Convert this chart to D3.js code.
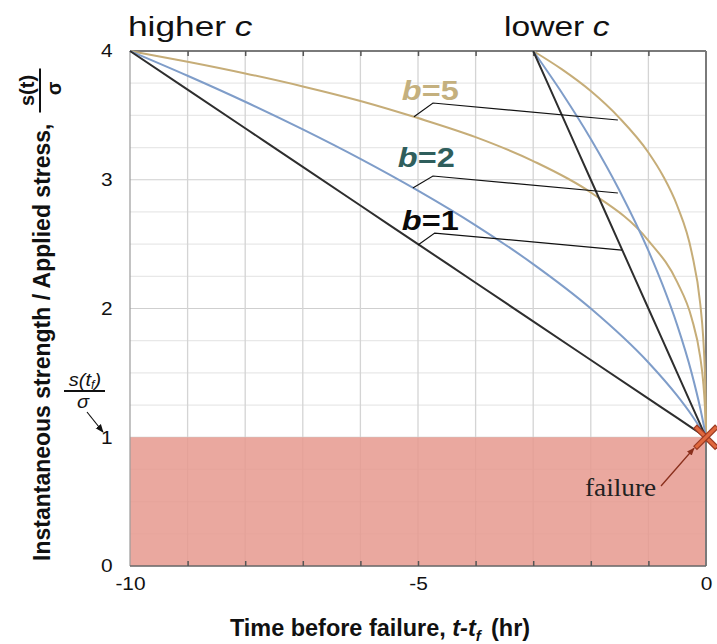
<!DOCTYPE html>
<html>
<head>
<meta charset="utf-8">
<script src="https://cdn.jsdelivr.net/npm/d3@7"></script>
<style>
  html, body { margin: 0; padding: 0; background: #fff; }
  svg { display: block; font-family: "Liberation Sans", Arial, sans-serif; }
</style>
</head>
<body>
<svg id="chart" width="717" height="644"></svg>
<script>
// Time before failure (hr) and normalised strength s(t)/sigma for each curve
const timeHigher = [-10, -9, -8, -7, -6, -5, -4, -3, -2, -1, -0.5, -0.25, -0.1, -0.05, -0.02, -0.01, -0.005, 0];
const higherB1   = [4, 3.7, 3.4, 3.1, 2.8, 2.5, 2.2, 1.9, 1.6, 1.3, 1.15, 1.075, 1.03, 1.015, 1.006, 1.003, 1.0015, 1];
const higherB2   = [4, 3.808, 3.606, 3.391, 3.162, 2.915, 2.646, 2.345, 2.0, 1.581, 1.323, 1.173, 1.072, 1.037, 1.015, 1.007, 1.004, 1];
const higherB5   = [4, 3.917, 3.826, 3.725, 3.612, 3.479, 3.331, 3.145, 2.901, 2.528, 2.205, 1.927, 1.622, 1.436, 1.25, 1.151, 1.086, 1];

const timeLower = [-3, -2.5, -2, -1.5, -1, -0.75, -0.5, -0.25, -0.1, -0.05, -0.02, -0.01, -0.005, 0];
const lowerB1   = [4, 3.5, 3.0, 2.5, 2.0, 1.75, 1.5, 1.25, 1.1, 1.05, 1.02, 1.01, 1.005, 1];
const lowerB2   = [4, 3.674, 3.317, 2.915, 2.449, 2.179, 1.871, 1.5, 1.225, 1.118, 1.049, 1.025, 1.012, 1];
const lowerB5   = [4, 3.857, 3.689, 3.479, 3.212, 3.033, 2.798, 2.439, 2.037, 1.784, 1.509, 1.346, 1.22, 1];

const failureLevel = 1;          // s(t_f)/sigma
const xLabelTicks = [-10, -5, 0];
const yLabelTicks = [0, 1, 2, 3, 4];
const groupTitles = ["higher", "lower"];
const exponentLabels = ["5", "2", "1"];

const W = 717, H = 644;
const SX = 1.16; // horizontal glyph stretch used for the labels
const svg = d3.select("#chart");

const x = d3.scaleLinear().domain([-10, 0]).range([130, 706]);
const y = d3.scaleLinear().domain([0, 4]).range([566, 51]);
const plain = d => String(d); // keeps the ASCII hyphen for negatives

// --- grid ---------------------------------------------------------------
const grid = svg.append("g");
grid.selectAll("line.h").data(d3.range(0, 4.001, 0.25)).join("line")
  .attr("x1", x(-10)).attr("x2", x(0))
  .attr("y1", d => y(d)).attr("y2", d => y(d))
  .attr("stroke", d => Number.isInteger(d) ? "#cfcfcf" : "#e8e8e8")
  .attr("stroke-width", 1.2);
grid.selectAll("line.v").data(d3.range(-9, 0, 1)).join("line")
  .attr("x1", d => x(d)).attr("x2", d => x(d))
  .attr("y1", y(0)).attr("y2", y(4))
  .attr("stroke", "#d4d4d4").attr("stroke-width", 1.3);

// --- failure zone (strength below applied stress) -----------------------
svg.append("rect")
  .attr("x", x(-10)).attr("y", y(failureLevel))
  .attr("width", x(0) - x(-10)).attr("height", y(0) - y(failureLevel))
  .attr("fill", "#e79a8f").attr("fill-opacity", 0.86);

// --- frame & ticks --------------------------------------------------------
const frame = svg.append("g").attr("fill", "none");
frame.append("line").attr("x1", x(-10)).attr("x2", x(0)).attr("y1", y(4)).attr("y2", y(4))
  .attr("stroke", "#7a7a7a").attr("stroke-width", 2);
frame.append("line").attr("x1", x(0)).attr("x2", x(0)).attr("y1", y(4)).attr("y2", y(0))
  .attr("stroke", "#7a7a7a").attr("stroke-width", 2);
frame.append("line").attr("x1", x(-10)).attr("x2", x(-10)).attr("y1", y(4)).attr("y2", y(0))
  .attr("stroke", "#9a9a9a").attr("stroke-width", 1.2);
frame.append("line").attr("x1", x(-10)).attr("x2", x(0)).attr("y1", y(0)).attr("y2", y(0))
  .attr("stroke", "#6a6a6a").attr("stroke-width", 1.5);

const topTicks = svg.append("g").attr("transform", `translate(0,${y(4)})`)
  .call(d3.axisTop(x).tickValues(d3.range(-9, 0)).tickSize(-5).tickFormat(""));
const botTicks = svg.append("g").attr("transform", `translate(0,${y(0)})`)
  .call(d3.axisBottom(x).tickValues(d3.range(-9, 0)).tickSize(-5).tickFormat(""));
[topTicks, botTicks].forEach(g => {
  g.select(".domain").remove();
  g.selectAll(".tick line").attr("stroke", "#555").attr("stroke-width", 1.5);
});

// tick labels
const xAxis = svg.append("g").attr("transform", `translate(0,${y(0)})`)
  .call(d3.axisBottom(x).tickValues(xLabelTicks).tickSize(0).tickPadding(11).tickFormat(plain));
xAxis.select(".domain").remove();
xAxis.selectAll("text").attr("font-size", 18).attr("fill", "#111")
  .attr("font-family", "Liberation Sans, Arial, sans-serif")
  .attr("transform", `scale(${SX},1)`);

const yAxis = svg.append("g").attr("transform", `translate(${x(-10)},0)`)
  .call(d3.axisLeft(y).tickValues(yLabelTicks).tickSize(0).tickPadding(16).tickFormat(plain));
yAxis.select(".domain").remove();
yAxis.selectAll("text").attr("font-size", 18).attr("fill", "#111")
  .attr("font-family", "Liberation Sans, Arial, sans-serif")
  .attr("text-anchor", "middle").attr("x", -20)
  .attr("transform", `scale(${SX},1)`);

// --- curves ---------------------------------------------------------------
const line = d3.line().x(d => x(d[0])).y(d => y(d[1])).curve(d3.curveMonotoneX);
const series = [
  { t: timeHigher, v: higherB5, color: "#c6ad78" },
  { t: timeHigher, v: higherB2, color: "#7f9dc9" },
  { t: timeHigher, v: higherB1, color: "#2e2e2e" },
  { t: timeLower,  v: lowerB5,  color: "#c6ad78" },
  { t: timeLower,  v: lowerB2,  color: "#7f9dc9" },
  { t: timeLower,  v: lowerB1,  color: "#2e2e2e" }
];
svg.append("g").selectAll("path").data(series).join("path")
  .attr("d", s => line(s.t.map((t, i) => [t, s.v[i]])))
  .attr("fill", "none").attr("stroke", s => s.color)
  .attr("stroke-width", 2).attr("stroke-linejoin", "round");

// --- leader lines from exponent labels to both curve families -----------
const leaders = [
  [[-5.07, 3.49], [-4.74, 3.596], [-1.53, 3.464]],
  [[-5.09, 2.936], [-4.74, 3.029], [-1.53, 2.897]],
  [[-5.0, 2.493], [-4.71, 2.586], [-1.46, 2.454]]
];
svg.append("g").selectAll("path").data(leaders).join("path")
  .attr("d", d3.line().x(d => x(d[0])).y(d => y(d[1])))
  .attr("fill", "none").attr("stroke", "#111").attr("stroke-width", 1.2);

// exponent labels
const labelPos = [[-5.28, 3.62], [-5.35, 3.1], [-5.28, 2.61]];
const labelColor = ["#c4b07e", "#2f5e5c", "#0a0a0a"];
exponentLabels.forEach((b, i) => {
  const t = svg.append("text")
    .attr("transform", `translate(${x(labelPos[i][0])},${y(labelPos[i][1])}) scale(${SX},1)`)
    .attr("font-size", 28).attr("font-weight", "bold").attr("fill", labelColor[i]);
  t.append("tspan").attr("font-style", "italic").text("b");
  t.append("tspan").text("=" + b);
});

// --- group titles -----------------------------------------------------------
[[128, groupTitles[0], 1.26], [504, groupTitles[1], 1.2]].forEach(([px, word, sx]) => {
  const t = svg.append("text")
    .attr("transform", `translate(${px},36) scale(${sx},1)`)
    .attr("font-size", 28).attr("fill", "#111");
  t.append("tspan").text(word);
  t.append("tspan").attr("dx", 7).attr("font-style", "italic").text("c");
});

// --- failure marker -------------------------------------------------------
const fx = x(0), fy = y(failureLevel), arm = 11;
const cross = svg.append("g");
[[-1, -1, 1, 1], [-1, 1, 1, -1]].forEach(([a, b, c, d]) => {
  cross.append("line").attr("x1", fx + a * arm).attr("y1", fy + b * arm)
    .attr("x2", fx + c * arm).attr("y2", fy + d * arm)
    .attr("stroke", "#9c3a22").attr("stroke-width", 5.5).attr("stroke-linecap", "butt");
  cross.append("line").attr("x1", fx + a * (arm - 0.8)).attr("y1", fy + b * (arm - 0.8))
    .attr("x2", fx + c * (arm - 0.8)).attr("y2", fy + d * (arm - 0.8))
    .attr("stroke", "#e0683e").attr("stroke-width", 3.2);
});

const defs = svg.append("defs");
defs.append("marker").attr("id", "arrRed").attr("viewBox", "0 0 10 10")
  .attr("refX", 9).attr("refY", 5).attr("markerWidth", 6).attr("markerHeight", 6)
  .attr("orient", "auto").append("path").attr("d", "M0,1 L10,5 L0,9 Z").attr("fill", "#8a2f1c");
defs.append("marker").attr("id", "arrBlk").attr("viewBox", "0 0 10 10")
  .attr("refX", 9).attr("refY", 5).attr("markerWidth", 7).attr("markerHeight", 7)
  .attr("orient", "auto").append("path").attr("d", "M0,1 L10,5 L0,9 Z").attr("fill", "#111");

svg.append("line").attr("x1", 661).attr("y1", 486).attr("x2", fx - 12).attr("y2", fy + 11)
  .attr("stroke", "#8a2f1c").attr("stroke-width", 1.3).attr("marker-end", "url(#arrRed)");
svg.append("text").attr("transform", `translate(585,496) scale(1.05,1)`)
  .attr("font-family", "Liberation Serif, Times New Roman, serif")
  .attr("font-size", 26).attr("fill", "#222").text("failure");

// --- s(t_f)/sigma annotation at the failure level -------------------------
const ann = svg.append("g").attr("font-style", "italic").attr("fill", "#111").attr("font-size", 19);
const num = ann.append("text").attr("transform", `translate(85,386) scale(1.05,1)`).attr("text-anchor", "middle");
num.append("tspan").text("s(t");
num.append("tspan").attr("font-size", 12).attr("dy", 3).text("f");
num.append("tspan").attr("dy", -3).text(")");
ann.append("line").attr("x1", 64).attr("x2", 105).attr("y1", 391).attr("y2", 391)
  .attr("stroke", "#111").attr("stroke-width", 1.8);
ann.append("text").attr("transform", `translate(83,408) scale(1.05,1)`).attr("text-anchor", "middle").text("σ");
svg.append("line").attr("x1", 87).attr("y1", 412).attr("x2", 103).attr("y2", 432)
  .attr("stroke", "#111").attr("stroke-width", 1.2).attr("marker-end", "url(#arrBlk)");

// --- axis titles ----------------------------------------------------------
const xt = svg.append("text").attr("transform", `translate(380,636) scale(1.02,1)`)
  .attr("text-anchor", "middle").attr("font-size", 23).attr("font-weight", "bold").attr("fill", "#111");
xt.append("tspan").text("Time before failure, ");
xt.append("tspan").attr("font-style", "italic").text("t-t");
xt.append("tspan").attr("font-style", "italic").attr("font-size", 15).attr("dy", 5).text("f");
xt.append("tspan").attr("dy", -5).attr("dx", 10).text("(hr)");

const yt = svg.append("g").attr("transform", "translate(50,561) rotate(-90)")
  .attr("font-weight", "bold").attr("fill", "#111");
const ytMain = yt.append("text").attr("font-size", 23).text("Instantaneous strength / Applied stress,");
const mainLen = ytMain.node().getComputedTextLength();
const fc = mainLen + 33;
yt.append("text").attr("x", fc).attr("y", -16).attr("text-anchor", "middle")
  .attr("font-size", 20).text("s(t)");
yt.append("line").attr("x1", fc - 22).attr("x2", fc + 22).attr("y1", -10).attr("y2", -10)
  .attr("stroke", "#111").attr("stroke-width", 2);
yt.append("text").attr("x", fc + 2).attr("y", 11).attr("text-anchor", "middle")
  .attr("font-size", 20).text("σ");
</script>
</body>
</html>
